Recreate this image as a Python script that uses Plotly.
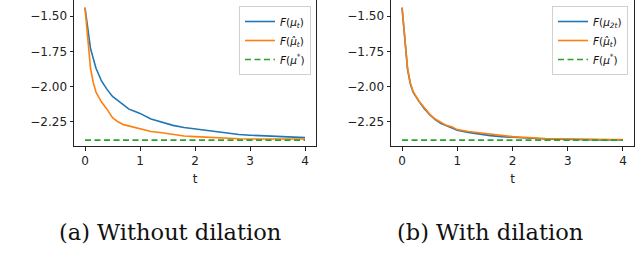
import plotly.graph_objects as go

W, H = 636, 268

t = [0, 0.05, 0.1, 0.15, 0.2, 0.3, 0.4, 0.5, 0.6, 0.7, 0.8, 0.9, 1.0, 1.2, 1.4,
     1.6, 1.8, 2.0, 2.2, 2.4, 2.6, 2.8, 3.0, 3.2, 3.4, 3.6, 3.8, 4.0]

left_mu = [-1.44, -1.60, -1.73, -1.80, -1.87, -1.96, -2.02, -2.07, -2.10, -2.13,
           -2.16, -2.175, -2.19, -2.23, -2.255, -2.275, -2.29, -2.30, -2.315,
           -2.325, -2.333, -2.340, -2.345, -2.348, -2.352, -2.357, -2.360, -2.362]
left_muhat = [-1.44, -1.66, -1.87, -1.97, -2.04, -2.11, -2.16, -2.22, -2.25, -2.27,
              -2.28, -2.29, -2.30, -2.318, -2.328, -2.340, -2.350, -2.355, -2.360,
              -2.364, -2.368, -2.370, -2.372, -2.373, -2.373, -2.372, -2.372, -2.372]
right_mu2t = [-1.44, -1.68, -1.88, -1.98, -2.04, -2.10, -2.155, -2.20, -2.235, -2.26,
              -2.275, -2.29, -2.31, -2.325, -2.338, -2.348, -2.355, -2.360, -2.364,
              -2.368, -2.372, -2.374, -2.376, -2.377, -2.377, -2.378, -2.378, -2.378]
right_muhat = [-1.44, -1.67, -1.87, -1.975, -2.035, -2.10, -2.15, -2.195, -2.23, -2.255,
               -2.275, -2.285, -2.305, -2.318, -2.328, -2.340, -2.350, -2.355, -2.360,
               -2.366, -2.368, -2.370, -2.372, -2.373, -2.374, -2.374, -2.375, -2.375]
optimum = -2.38

x_ticks = [0, 1, 2, 3, 4]
y_ticks = [-1.50, -1.75, -2.00, -2.25]
y_tick_labels = ["−1.50", "−1.75", "−2.00", "−2.25"]
captions = ["(a) Without dilation", "(b) With dilation"]
names_left = ["<i>F</i>(<i>μ<sub>t</sub></i>)", "<i>F</i>(<i>μ̂<sub>t</sub></i>)", "<i>F</i>(<i>μ</i><sup>*</sup>)"]
names_right = ["<i>F</i>(<i>μ<sub>2t</sub></i>)", "<i>F</i>(<i>μ̂<sub>t</sub></i>)", "<i>F</i>(<i>μ</i><sup>*</sup>)"]

BLUE, ORANGE, GREEN = "#1f77b4", "#ff7f0e", "#2ca02c"

fig = go.Figure()

def add_panel(xa, ya, leg, s1, s2, names):
    fig.add_trace(go.Scatter(x=t, y=s1, mode="lines", name=names[0], xaxis=xa, yaxis=ya,
                             legend=leg, line=dict(color=BLUE, width=1.6)))
    fig.add_trace(go.Scatter(x=t, y=s2, mode="lines", name=names[1], xaxis=xa, yaxis=ya,
                             legend=leg, line=dict(color=ORANGE, width=1.6)))
    fig.add_trace(go.Scatter(x=[t[0], t[-1]], y=[optimum, optimum], mode="lines", name=names[2],
                             xaxis=xa, yaxis=ya, legend=leg,
                             line=dict(color=GREEN, width=1.6, dash="6px,3.5px")))

add_panel("x", "y", "legend", left_mu, left_muhat, names_left)
add_panel("x2", "y2", "legend2", right_mu2t, right_muhat, names_right)

ydom = [1 - 146 / H, 1.0]
yrange = [-2.25 - 24 / 140, -1.50 + 16 / 140]
xrange = [-0.2, 4.2]

TICKFONT = dict(family="DejaVu Sans", size=12, color="#222")
axis_common = dict(showline=True, linecolor="#222", linewidth=1, ticks="outside",
                   ticklen=3.5, tickwidth=1, tickcolor="#222", showgrid=False,
                   zeroline=False, tickfont=TICKFONT)
LEGFONT = dict(family="DejaVu Sans", size=10.5, color="#111")

fig.update_layout(
    width=W, height=H, margin=dict(l=0, r=0, t=0, b=0),
    paper_bgcolor="white", plot_bgcolor="white", showlegend=True,
    xaxis=dict(domain=[74 / W, 316 / W], range=xrange, tickvals=x_ticks, anchor="y",
               title=dict(text="t", font=TICKFONT, standoff=7),
               **axis_common),
    yaxis=dict(domain=ydom, range=yrange, tickvals=y_ticks, ticktext=y_tick_labels,
               mirror=True, anchor="x", **axis_common),
    xaxis2=dict(domain=[391 / W, 634 / W], range=xrange, tickvals=x_ticks, anchor="y2",
                title=dict(text="t", font=TICKFONT, standoff=7),
                **axis_common),
    yaxis2=dict(domain=ydom, range=yrange, tickvals=y_ticks, ticktext=y_tick_labels,
                mirror=True, anchor="x2", **axis_common),
    legend=dict(x=311 / W, y=1 - 6 / H, xanchor="right", yanchor="top",
                bgcolor="rgba(255,255,255,0.8)", bordercolor="#d0d0d0", borderwidth=1,
                font=LEGFONT, tracegroupgap=0, itemwidth=30),
    legend2=dict(x=628 / W, y=1 - 6 / H, xanchor="right", yanchor="top",
                 bgcolor="rgba(255,255,255,0.8)", bordercolor="#d0d0d0", borderwidth=1,
                 font=LEGFONT, tracegroupgap=0, itemwidth=30),
    annotations=[
        dict(text=captions[0], x=170 / W, y=1 - 232 / H, xref="paper", yref="paper",
             showarrow=False, xanchor="center", yanchor="middle",
             font=dict(family="DejaVu Serif", size=22.5, color="#111")),
        dict(text=captions[1], x=490 / W, y=1 - 232 / H, xref="paper", yref="paper",
             showarrow=False, xanchor="center", yanchor="middle",
             font=dict(family="DejaVu Serif", size=22.5, color="#111")),
    ],
)

fig.write_html("out.html", config={"displayModeBar": False},
               post_script="document.body.style.margin='0px';")
